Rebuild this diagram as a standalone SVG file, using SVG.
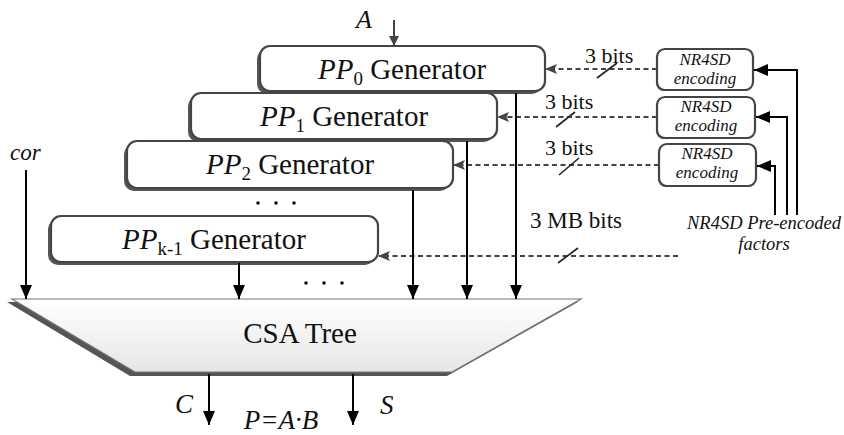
<svg xmlns="http://www.w3.org/2000/svg" width="844" height="435" viewBox="0 0 844 435" font-family="'Liberation Serif', 'DejaVu Serif', serif">
  <style>
    text { font-family: 'Liberation Serif', 'DejaVu Serif', serif; fill: #111; }
    .gen { font-size: 29px; }
    .it { font-style: italic; }
    .lbl { font-size: 22px; }
    .enc { font-size: 17px; font-style: italic; text-anchor: middle; }
    .box { fill: #fff; stroke: #454545; stroke-width: 2.2; }
    .shadow { fill: #555; }
    .solid { stroke: #000; stroke-width: 2; fill: none; }
    .dash { stroke: #444; stroke-width: 2.2; stroke-dasharray: 5 3.5; fill: none; }
    .slash { stroke: #222; stroke-width: 1.6; }
  </style>
  <defs>
    <marker id="arrow" viewBox="0 0 14 12" refX="14" refY="6" markerWidth="14" markerHeight="12" markerUnits="userSpaceOnUse" orient="auto">
      <path d="M0,0 L14,6 L0,12 z" fill="#000"/>
    </marker>
    <marker id="arrowGray" viewBox="0 0 12 10" refX="11" refY="5" markerWidth="12" markerHeight="10" markerUnits="userSpaceOnUse" orient="auto">
      <path d="M0,0 L12,5 L0,10 L2.5,5 z" fill="#444"/>
    </marker>
    <marker id="arrowSmall" viewBox="0 0 10 10" refX="10" refY="5" markerWidth="10" markerHeight="10" markerUnits="userSpaceOnUse" orient="auto">
      <path d="M0,0 L10,5 L0,10 z" fill="#444"/>
    </marker>
    <linearGradient id="csaFill" x1="0" y1="0" x2="0" y2="1">
      <stop offset="0" stop-color="#ffffff"/>
      <stop offset="1" stop-color="#e6e6e6"/>
    </linearGradient>
  </defs>

  <!-- CSA tree -->
  <g id="csa">
    <polygon points="7,302 578,302 447,376 130,376" class="shadow"/>
    <polygon points="12,299 581,299 452,372 135,372" fill="url(#csaFill)" stroke="#777" stroke-width="1.2"/>
    <text x="300" y="343" font-size="29" text-anchor="middle">CSA Tree</text>
  </g>

  <!-- partial product generators -->
  <g id="pp0">
    <rect x="257" y="49" width="285" height="45" rx="10" class="shadow"/>
    <rect x="260" y="46" width="285" height="45" rx="10" class="box"/>
    <text x="402" y="79" class="gen" text-anchor="middle"><tspan class="it">PP</tspan><tspan font-size="19" dy="6">0</tspan><tspan dy="-6"> Generator</tspan></text>
  </g>
  <g id="pp1">
    <rect x="188" y="96" width="306" height="46" rx="10" class="shadow"/>
    <rect x="191" y="93" width="306" height="46" rx="10" class="box"/>
    <text x="344" y="126" class="gen" text-anchor="middle"><tspan class="it">PP</tspan><tspan font-size="19" dy="6">1</tspan><tspan dy="-6"> Generator</tspan></text>
  </g>
  <g id="pp2">
    <rect x="124" y="144" width="326" height="47" rx="10" class="shadow"/>
    <rect x="127" y="141" width="326" height="47" rx="10" class="box"/>
    <text x="290" y="174" class="gen" text-anchor="middle"><tspan class="it">PP</tspan><tspan font-size="19" dy="6">2</tspan><tspan dy="-6"> Generator</tspan></text>
  </g>
  <g id="ppk1">
    <rect x="48" y="219" width="327" height="46" rx="10" class="shadow"/>
    <rect x="51" y="216" width="327" height="46" rx="10" class="box"/>
    <text x="214" y="249" class="gen" text-anchor="middle"><tspan class="it">PP</tspan><tspan font-size="19" dy="6">k-1</tspan><tspan dy="-6"> Generator</tspan></text>
  </g>

  <!-- NR4SD encoders -->
  <g id="enc0">
    <rect x="656" y="50" width="96" height="41" rx="8" class="shadow"/>
    <rect x="657" y="49" width="96" height="41" rx="8" class="box"/>
    <text x="705" y="64.5" class="enc">NR4SD</text>
    <text x="705" y="83.5" class="enc">encoding</text>
  </g>
  <g id="enc1">
    <rect x="656" y="98" width="98" height="41" rx="8" class="shadow"/>
    <rect x="657" y="97" width="98" height="41" rx="8" class="box"/>
    <text x="706" y="112" class="enc">NR4SD</text>
    <text x="706" y="131" class="enc">encoding</text>
  </g>
  <g id="enc2">
    <rect x="658" y="145" width="97" height="42" rx="8" class="shadow"/>
    <rect x="659" y="144" width="97" height="42" rx="8" class="box"/>
    <text x="707" y="159" class="enc">NR4SD</text>
    <text x="707" y="178" class="enc">encoding</text>
  </g>

  <!-- connectors -->
  <g id="connectors">
    <!-- operand A -->
    <line x1="394" y1="20" x2="394" y2="46" stroke="#444" stroke-width="2" marker-end="url(#arrowSmall)"/>

    <!-- encoded digits to generators -->
    <line x1="657" y1="69" x2="546" y2="69" class="dash" marker-end="url(#arrowGray)"/>
    <line x1="657" y1="117" x2="498" y2="117" class="dash" marker-end="url(#arrowGray)"/>
    <line x1="659" y1="165" x2="454" y2="165" class="dash" marker-end="url(#arrowGray)"/>
    <line x1="678" y1="256" x2="379" y2="256" class="dash" marker-end="url(#arrowGray)"/>
    <line x1="597" y1="78" x2="617" y2="63" class="slash"/>
    <line x1="556" y1="127" x2="575" y2="112" class="slash"/>
    <line x1="559" y1="175" x2="579" y2="158" class="slash"/>
    <line x1="558" y1="263" x2="578" y2="248" class="slash"/>

    <!-- pre-encoded factors into encoders -->
    <polyline points="797,215 797,70 754,70" class="solid" marker-end="url(#arrow)"/>
    <polyline points="787,215 787,117 756,117" class="solid" marker-end="url(#arrow)"/>
    <polyline points="775,215 775,166 757,166" class="solid" marker-end="url(#arrow)"/>

    <!-- partial products into the CSA tree -->
    <line x1="26" y1="170" x2="26" y2="299" class="solid" marker-end="url(#arrow)"/>
    <line x1="239" y1="263" x2="239" y2="299" class="solid" marker-end="url(#arrow)"/>
    <line x1="413" y1="190" x2="413" y2="299" class="solid" marker-end="url(#arrow)"/>
    <line x1="467" y1="141" x2="467" y2="299" class="solid" marker-end="url(#arrow)"/>
    <line x1="516" y1="93" x2="516" y2="299" class="solid" marker-end="url(#arrow)"/>

    <!-- outputs -->
    <line x1="209" y1="374" x2="209" y2="425" class="solid" marker-end="url(#arrow)"/>
    <line x1="353" y1="374" x2="353" y2="425" class="solid" marker-end="url(#arrow)"/>
  </g>

  <!-- ellipses -->
  <g id="dots" fill="#111">
    <circle cx="258" cy="203" r="1.8"/>
    <circle cx="276" cy="203" r="1.8"/>
    <circle cx="294" cy="203" r="1.8"/>
    <circle cx="306" cy="283" r="1.8"/>
    <circle cx="324" cy="283" r="1.8"/>
    <circle cx="342" cy="283" r="1.8"/>
  </g>

  <!-- labels -->
  <g id="labels">
    <text x="356" y="28" font-size="26" class="it">A</text>
    <text x="10" y="160" font-size="23" class="it">cor</text>
    <text x="585" y="63" class="lbl">3 bits</text>
    <text x="545" y="109" class="lbl">3 bits</text>
    <text x="545" y="155" class="lbl">3 bits</text>
    <text x="530" y="228" font-size="23">3 MB bits</text>
    <text x="764" y="229" font-size="18.5" class="it" text-anchor="middle">NR4SD Pre-encoded</text>
    <text x="764" y="250" font-size="18.5" class="it" text-anchor="middle">factors</text>
    <text x="175" y="413" font-size="27" class="it">C</text>
    <text x="380" y="414" font-size="27" class="it">S</text>
    <text x="281" y="429" font-size="27" class="it" text-anchor="middle">P=A·B</text>
  </g>
</svg>
